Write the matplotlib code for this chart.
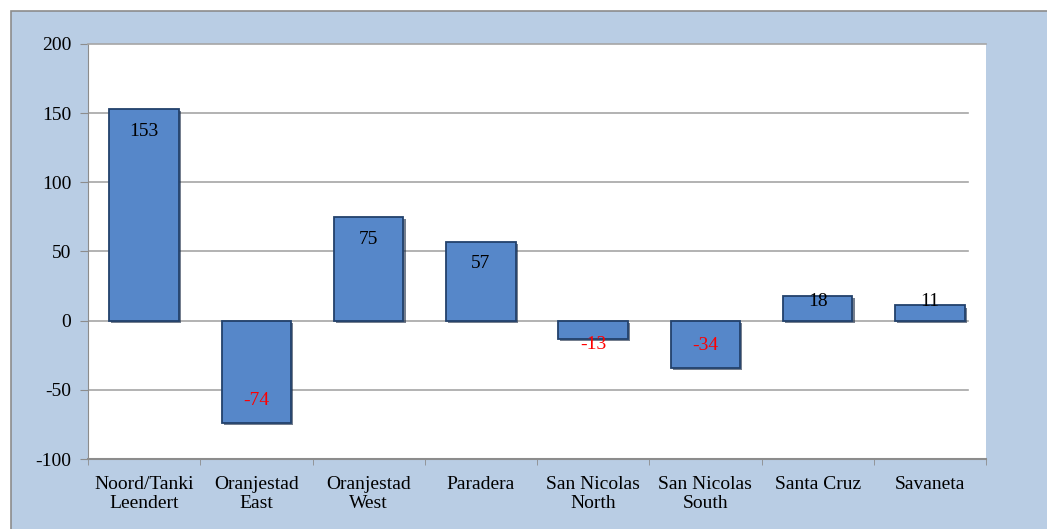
import matplotlib.pyplot as plt
import matplotlib.patheffects as pe
from matplotlib.patches import Rectangle
import numpy as np

# Population change by region
regions = ['Noord/Tanki\nLeendert', 'Oranjestad\nEast', 'Oranjestad\nWest', 'Paradera',
           'San Nicolas\nNorth', 'San Nicolas\nSouth', 'Santa Cruz', 'Savaneta']
values = [153, -74, 75, 57, -13, -34, 18, 11]
yticks = [-100, -50, 0, 50, 100, 150, 200]

plt.rcParams['font.family'] = ['Liberation Serif', 'DejaVu Serif']

fig = plt.figure(figsize=(10.47, 5.29), dpi=100)
fig.patch.set_facecolor('white')

# light blue chart area with grey frame (only left and top edges visible)
bg = Rectangle((11 / 1047, -0.2), 1.2, 1.2 - 11 / 529, transform=fig.transFigure,
               facecolor='#B9CDE4', edgecolor='#8C8C8C', linewidth=1.2, zorder=-10)
fig.patches.append(bg)

ax = fig.add_axes([88 / 1047, 70 / 529, 898 / 1047, 415 / 529])
ax.set_zorder(1)
ax.set_facecolor('white')

x = np.arange(len(values))
ax.set_xlim(-0.5, len(values) - 0.5)
ax.set_ylim(-100, 200)

for t in yticks[1:-1]:
    ax.axhline(t, xmin=0, xmax=0.98, color='#A6A6A6', linewidth=1.2, zorder=1)

bars = ax.bar(x, values, width=0.62, color='#5687C9', edgecolor='#22416B',
              linewidth=1.3, zorder=3)
for b in bars:
    b.set_path_effects([pe.SimplePatchShadow(offset=(1.5, -1.5), shadow_rgbFace='#1A2A44', alpha=0.6),
                        pe.Normal()])

for xi, v in zip(x, values):
    if v >= 0:
        ly = max(v - 16, 14)
        col = 'black'
    else:
        ly = min(v + 16, -17)
        col = 'red'
    ax.text(xi, ly, str(v), ha='center', va='center', fontsize=14, color=col, zorder=4)

ax.set_yticks(yticks)
ax.set_yticklabels([str(t) for t in yticks], fontsize=14)
ax.set_xticks(x)
ax.set_xticklabels(regions, fontsize=14, linespacing=1.15)
ax.set_xticks(np.arange(len(values) + 1) - 0.5, minor=True)
ax.tick_params(axis='x', which='major', length=0, pad=12)
ax.tick_params(axis='x', which='minor', length=4, color='#8C8C8C', direction='out')
ax.tick_params(axis='y', length=6, color='#8C8C8C', pad=6)

ax.spines['right'].set_visible(False)
ax.spines['top'].set_color('#A6A6A6')
ax.spines['top'].set_linewidth(1.2)
ax.spines['left'].set_color('#8C8C8C')
ax.spines['bottom'].set_color('#8C8C8C')
ax.spines['bottom'].set_linewidth(1.5)

fig.savefig('out.png', dpi=100)
